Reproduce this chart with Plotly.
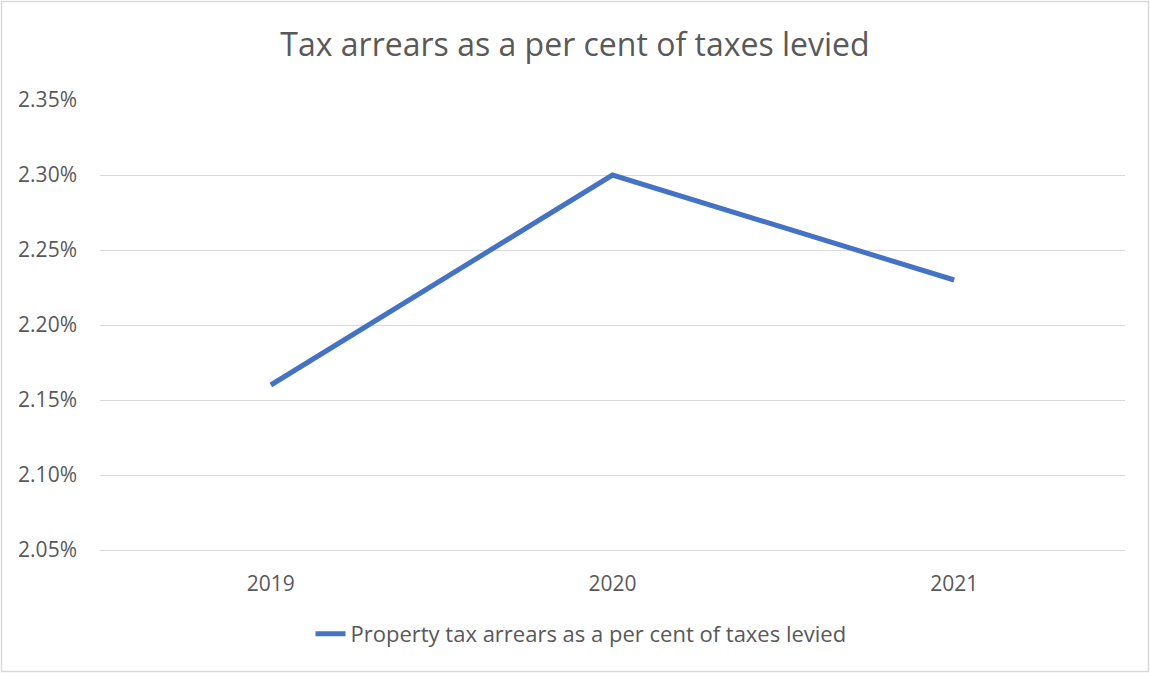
import plotly.graph_objects as go

years = ["2019", "2020", "2021"]
arrears_pct = [0.0216, 0.0230, 0.0223]
series_name = "Property tax arrears as a per cent of taxes levied"
title_text = "Tax arrears as a per cent of taxes levied"

W, H = 1150, 673
L, R, T, B = 100, 25, 100, 123
pw, ph = W - L - R, H - T - B
FONT = "'Open Sans', sans-serif"
GREY = "#595959"

def px_to_paper_x(px):
    return (px - L) / pw

def px_to_paper_y(py):
    return (H - B - py) / ph

fig = go.Figure()
fig.add_trace(go.Scatter(
    x=years, y=arrears_pct, mode="lines", name=series_name,
    line=dict(color="#4472C4", width=5),
))

fig.update_layout(
    width=W, height=H,
    margin=dict(l=L, r=R, t=T, b=B),
    paper_bgcolor="white", plot_bgcolor="white",
    font=dict(family=FONT, color=GREY, size=21),
    title=dict(text=title_text, x=0.5, xanchor="center", y=1 - 45 / H, yanchor="middle",
               font=dict(family=FONT, size=32, color=GREY)),
    showlegend=True,
    legend=dict(orientation="h", x=px_to_paper_x(581), xanchor="center", y=px_to_paper_y(634), yanchor="middle",
                font=dict(family=FONT, size=22, color=GREY), itemwidth=30),
    xaxis=dict(type="category", range=[-0.5, 2.5], showgrid=False, showline=True,
               linecolor="#D9D9D9", linewidth=1, ticks="", ticklabelstandoff=15,
               tickfont=dict(family=FONT, size=21, color=GREY)),
    yaxis=dict(range=[0.0205, 0.0235], dtick=0.0005, tick0=0.0205, tickformat=".2%",
               showgrid=True, gridcolor="#D9D9D9", gridwidth=1, zeroline=False,
               showline=False, ticks="", ticklabelstandoff=22,
               tickfont=dict(family=FONT, size=21, color=GREY)),
    shapes=[dict(type="rect", xref="paper", yref="paper",
                 x0=px_to_paper_x(1.5), x1=px_to_paper_x(1148.5),
                 y0=px_to_paper_y(671.5), y1=px_to_paper_y(1.5),
                 line=dict(color="#D9D9D9", width=1.5), fillcolor="rgba(0,0,0,0)", layer="below")],
)

fig.write_html("out.html", config={"displayModeBar": False},
               post_script="document.body.style.margin='0';document.body.style.overflow='hidden';")
